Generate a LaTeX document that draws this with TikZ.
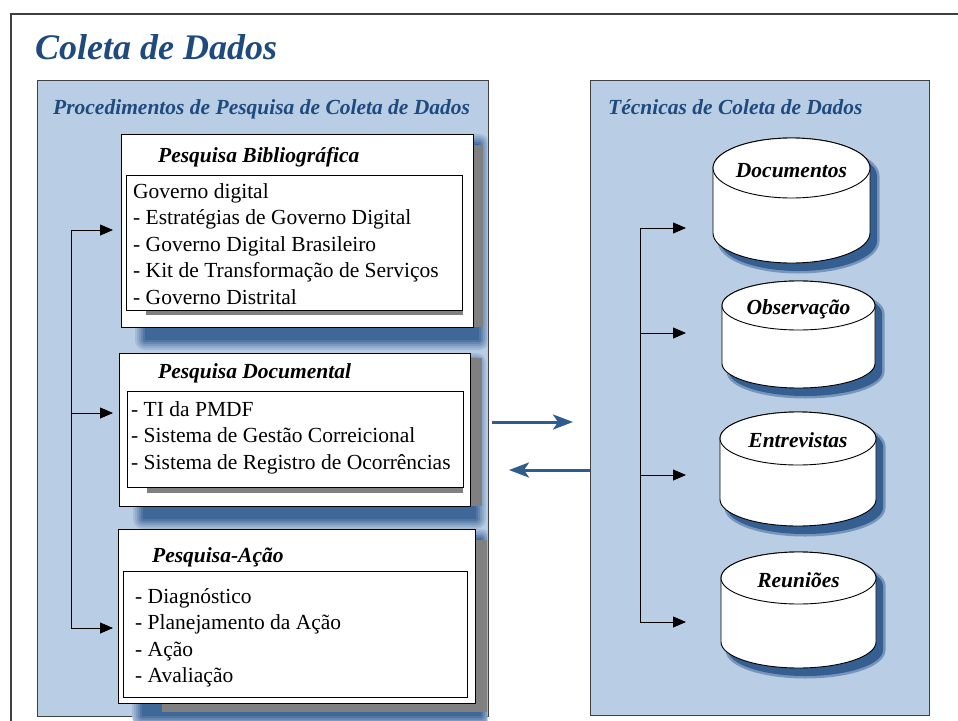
\documentclass[tikz,border=0pt]{standalone}
\usepackage{fontspec}
\setmainfont{Liberation Serif}
\usepackage{tikz}
\usetikzlibrary{positioning}
\usetikzlibrary{arrows.meta}

\definecolor{panelblue}{HTML}{B9CDE5}
\definecolor{titleblue}{HTML}{1F4A7E}
\definecolor{shadowblue}{HTML}{355E91}
\definecolor{arrowblue}{HTML}{2F5C8F}
\definecolor{framegray}{HTML}{404040}
\definecolor{shadowgray}{HTML}{808080}

\tikzset{
  panel/.style={draw=framegray, line width=1.2pt, fill=panelblue, anchor=north west, inner sep=0pt},
  headline/.style={text=titleblue, font=\fontsize{21.5}{24}\selectfont\bfseries\itshape, anchor=base west, inner sep=0pt},
  card/.style={draw=black, line width=0.9pt, fill=white, anchor=north west, inner sep=0pt},
  cardtitle/.style={font=\fontsize{21.5}{24}\selectfont\bfseries\itshape, anchor=base west, inner sep=0pt},
  cardlist/.style={font=\fontsize{21.5}{26.5}\selectfont, align=left, anchor=north west, inner sep=0pt},
  link/.style={-{Triangle[length=13pt,width=11pt]}, line width=0.8pt},
  flow/.style={-{Stealth[length=20pt,width=15pt,inset=5pt]}, line width=3pt, arrowblue},
  cyllabel/.style={font=\fontsize{21.5}{24}\selectfont\bfseries\itshape, anchor=base, inner sep=0pt},
}

\begin{document}
\begin{tikzpicture}[x=1pt,y=-1pt]
\useasboundingbox (0,0) rectangle (958,720);
\clip (0,0) rectangle (958,720);

% frame and title
\draw[framegray, line width=1.5pt] (11,14) rectangle (990,760);
\node[headline, font=\fontsize{36}{40}\selectfont\bfseries\itshape] (title) at (35,59) {Coleta de Dados};

% panels
\node[panel, minimum width=451pt, minimum height=636pt] (proc) at (37,80) {};
\node[panel, minimum width=339pt, minimum height=635pt] (tech) at (590,80) {};
\node[headline] (procTitle) at (53,114) {Procedimentos de Pesquisa de Coleta de Dados};
\node[headline] (techTitle) at (608,114) {Técnicas de Coleta de Dados};

% shadows of the cards
\begin{scope}
\clip (37,80) rectangle (487.4,730);
\foreach \xa/\ya/\xb/\yb in {121/134/473/327, 119/353/470/506, 118/529/475/703}
  \foreach \e/\c in {10/15, 8/30, 6/45, 4/62, 2/78, 0/92}
    \fill[shadowblue!\c!panelblue, rounded corners=\e pt] (\xa+24-\e,\ya+10-\e) rectangle (\xb+6+\e,\yb+13+\e);
\fill[shadowgray] (473,145) rectangle (483,327);
\fill[shadowgray] (470,358) rectangle (482,506);
\fill[shadowgray] (162,540) rectangle (487,712);
\end{scope}

% Pesquisa Bibliografica
\node[card, minimum width=352pt, minimum height=193pt] (bib) at (121,134) {};
\node[cardtitle] (bibTitle) at (158,162) {Pesquisa Bibliográfica};
\fill[shadowgray] (146,310) rectangle (463,315);
\node[card, minimum width=336pt, minimum height=135pt] (bibList) at (126,175) {};
\node[cardlist] (bibText) at (133,183.3) {Governo digital\\- Estratégias de Governo Digital\\- Governo Digital Brasileiro\\- Kit de Transformação de Serviços\\- Governo Distrital};

% Pesquisa Documental
\node[card, minimum width=351pt, minimum height=153pt] (doc) at (119,353) {};
\node[cardtitle] (docTitle) at (158,378) {Pesquisa Documental};
\fill[shadowgray] (147,487) rectangle (463,493);
\node[card, minimum width=336pt, minimum height=96pt] (docList) at (127,391) {};
\node[cardlist] (docText) at (131,401.3) {- TI da PMDF\\- Sistema de Gestão Correicional\\- Sistema de Registro de Ocorrências};

% Pesquisa-Acao
\node[card, minimum width=357pt, minimum height=174pt] (act) at (118,529) {};
\node[cardtitle] (actTitle) at (152,562) {Pesquisa-Ação};
\node[card, minimum width=344pt, minimum height=126pt] (actList) at (123,571) {};
\node[cardlist] (actText) at (135,588.3) {- Diagnóstico\\- Planejamento da Ação\\- Ação\\- Avaliação};

% left connectors
\coordinate (lTop) at (71,230);
\coordinate (lMid) at (71,413);
\coordinate (lBot) at (71,628);
\coordinate (toBib) at (113,230);
\coordinate (toDoc) at (113,413);
\coordinate (toAct) at (113,628);
\draw[line width=0.8pt] (lTop) -- (lBot);
\foreach \a/\b in {lTop/toBib, lMid/toDoc, lBot/toAct}
  \draw[link] (\a) -- (\b);

% data stores
\foreach \cx/\rx/\ty/\by/\ry/\nm/\txt in {791.5/78.5/168/233/30/docs/Documentos, 798.5/76.5/305.5/363.5/24.5/obs/Observação, 798/78/438.5/499.5/26.5/intv/Entrevistas, 798.5/77.5/578/642/26/meet/Reuniões} {
  \begin{scope}[shift={(7,8)}]
    \filldraw[shadowblue!50!panelblue, line width=5pt] (\cx-\rx,\ty) -- (\cx-\rx,\by) arc[start angle=180, end angle=360, x radius=\rx pt, y radius=\ry pt] -- (\cx+\rx,\ty) arc[start angle=0, end angle=180, x radius=\rx pt, y radius=\ry pt] -- cycle;
    \fill[shadowblue] (\cx-\rx,\ty) -- (\cx-\rx,\by) arc[start angle=180, end angle=360, x radius=\rx pt, y radius=\ry pt] -- (\cx+\rx,\ty) arc[start angle=0, end angle=180, x radius=\rx pt, y radius=\ry pt] -- cycle;
  \end{scope}
  \draw[fill=white, line width=0.9pt] (\cx-\rx,\ty) -- (\cx-\rx,\by) arc[start angle=180, end angle=360, x radius=\rx pt, y radius=\ry pt] -- (\cx+\rx,\ty) arc[start angle=0, end angle=180, x radius=\rx pt, y radius=\ry pt] -- cycle;
  \draw[fill=white, line width=0.9pt] (\cx,\ty) ellipse[x radius=\rx pt, y radius=\ry pt];
  \node[cyllabel] (\nm) at (\cx,\ty+9) {\txt};
}

% right connectors
\coordinate (rTop) at (640,228);
\coordinate (rObs) at (640,333);
\coordinate (rIntv) at (640,475);
\coordinate (rBot) at (640,622);
\coordinate (toDocs) at (686,228);
\coordinate (toObs) at (686,333);
\coordinate (toIntv) at (686,475);
\coordinate (toMeet) at (686,622);
\draw[line width=0.8pt] (rTop) -- (rBot);
\foreach \a/\b in {rTop/toDocs, rObs/toObs, rIntv/toIntv, rBot/toMeet}
  \draw[link] (\a) -- (\b);

% exchange between panels
\coordinate (sendA) at (492,422);
\coordinate (sendB) at (573,422);
\coordinate (backA) at (590,470);
\coordinate (backB) at (509,470);
\draw[flow] (sendA) -- (sendB);
\draw[flow] (backA) -- (backB);
\end{tikzpicture}
\end{document}
